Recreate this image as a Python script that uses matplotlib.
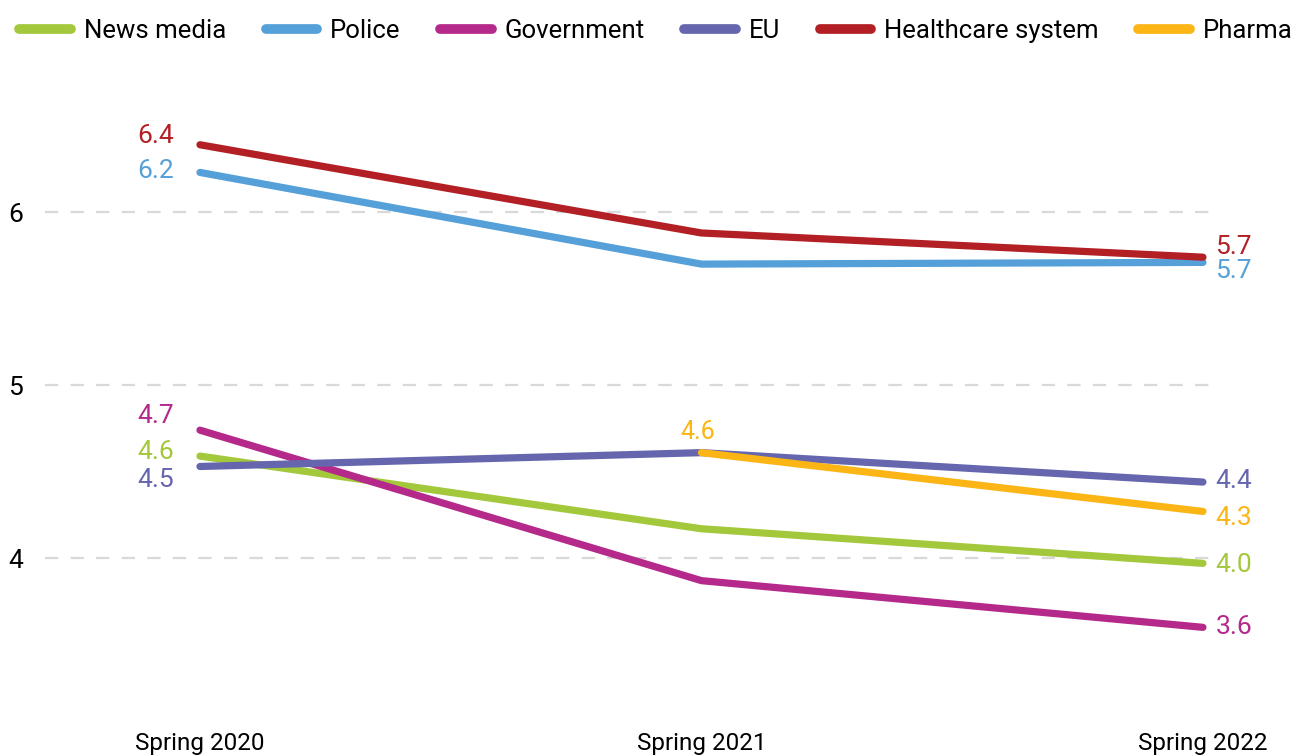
import numpy as np
import matplotlib.pyplot as plt

plt.rcParams['font.family'] = ['Roboto', 'DejaVu Sans']

# survey waves and mean trust scores per institution
periods = ["Spring 2020", "Spring 2021", "Spring 2022"]
news_media = [4.59, 4.17, 3.97]
police = [6.23, 5.70, 5.71]
government = [4.74, 3.87, 3.60]
eu = [4.53, 4.61, 4.44]
healthcare = [6.39, 5.88, 5.74]
pharma = [np.nan, 4.61, 4.27]

series = [
    ("News media", news_media, "#a3c83c"),
    ("Police", police, "#55a0d8"),
    ("Government", government, "#b5298a"),
    ("EU", eu, "#6566ad"),
    ("Healthcare system", healthcare, "#b22025"),
    ("Pharma", pharma, "#fbb515"),
]

# vertical nudges (points) for the value labels so they don't collide
start_nudge = {"News media": 3, "Police": 1, "Government": 10,
               "EU": -10, "Healthcare system": 6}
end_nudge = {"News media": -1, "Police": -6, "Government": 0,
             "EU": 1, "Healthcare system": 7, "Pharma": -5}

fig = plt.figure(figsize=(12.98, 7.56), dpi=100)
ax = fig.add_axes([45 / 1298, 56 / 756, 1175 / 1298, 640 / 756])

x = np.arange(len(periods))
for name, vals, color in series:
    vals = np.asarray(vals, dtype=float)
    ax.plot(x, vals, color=color, lw=5.2, solid_capstyle='round',
            solid_joinstyle='round', label=name, zorder=3)
    idx = np.where(~np.isnan(vals))[0]
    first, last = idx[0], idx[-1]
    if first == 0:
        ax.annotate(f"{vals[0]:.1f}", (x[0], vals[0]),
                    xytext=(-19, start_nudge.get(name, 0)), textcoords='offset points',
                    ha='right', va='center', color=color, fontsize=19)
    else:
        ax.annotate(f"{vals[first]:.1f}", (x[first], vals[first]),
                    xytext=(-3, 15), textcoords='offset points',
                    ha='center', va='center', color=color, fontsize=18)
    ax.annotate(f"{vals[last]:.1f}", (x[last], vals[last]),
                xytext=(9, end_nudge.get(name, 0)), textcoords='offset points',
                ha='left', va='center', color=color, fontsize=19)

for yv in [4, 5, 6]:
    ax.axhline(yv, color='#d9d9d9', lw=1.6, dashes=(6, 5.5), zorder=1)

ax.set_xlim(-0.309, 2.034)
ax.set_ylim(3.18, 6.88)
ax.set_xticks(x)
ax.set_xticklabels(periods, fontsize=17.5)
ax.set_yticks([4, 5, 6])
ax.set_yticklabels(["4", "5", "6"], fontsize=19)
ax.tick_params(axis='both', length=0)
ax.tick_params(axis='x', pad=23)
ax.tick_params(axis='y', pad=16)
for spine in ax.spines.values():
    spine.set_visible(False)

leg = fig.legend(loc='upper left', bbox_to_anchor=(0.0, 1.0), ncol=6,
                 frameon=False, fontsize=18.5, handlelength=2.0,
                 handletextpad=0.5, columnspacing=1.55, borderaxespad=0.35)
for line in leg.get_lines():
    line.set_linewidth(7)
    line.set_solid_capstyle('round')

fig.savefig("out.png", dpi=100)
